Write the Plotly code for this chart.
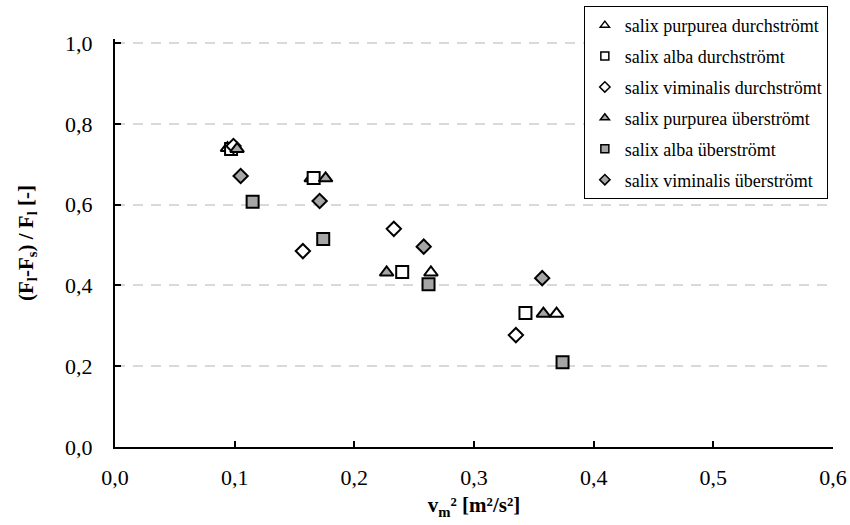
import plotly.graph_objects as go

# Measured series: v_m^2 [m²/s²] and relative force reduction (F_l - F_s) / F_l
series_names = [
    "salix purpurea durchströmt",
    "salix alba durchströmt",
    "salix viminalis durchströmt",
    "salix purpurea überströmt",
    "salix alba überströmt",
    "salix viminalis überströmt",
]

purpurea_durch_x = [0.094, 0.164, 0.264, 0.369]
purpurea_durch_y = [0.740, 0.665, 0.432, 0.330]

alba_durch_x = [0.097, 0.166, 0.240, 0.343]
alba_durch_y = [0.738, 0.666, 0.433, 0.332]

viminalis_durch_x = [0.099, 0.157, 0.233, 0.335]
viminalis_durch_y = [0.745, 0.485, 0.540, 0.277]

purpurea_ueber_x = [0.102, 0.176, 0.227, 0.358]
purpurea_ueber_y = [0.738, 0.665, 0.432, 0.330]

alba_ueber_x = [0.115, 0.174, 0.262, 0.374]
alba_ueber_y = [0.607, 0.515, 0.403, 0.210]

viminalis_ueber_x = [0.105, 0.171, 0.258, 0.357]
viminalis_ueber_y = [0.671, 0.609, 0.496, 0.418]

x_ticks = [0.0, 0.1, 0.2, 0.3, 0.4, 0.5, 0.6]
y_ticks = [0.0, 0.2, 0.4, 0.6, 0.8, 1.0]

WHITE = "#ffffff"
GREY = "#a6a6a6"
FONT = "Liberation Serif"

styles = [
    ("triangle-up", WHITE, 12),
    ("square", WHITE, 12),
    ("diamond", WHITE, 11),
    ("triangle-up", GREY, 12),
    ("square", GREY, 12),
    ("diamond", GREY, 11),
]
data = [
    (purpurea_durch_x, purpurea_durch_y),
    (alba_durch_x, alba_durch_y),
    (viminalis_durch_x, viminalis_durch_y),
    (purpurea_ueber_x, purpurea_ueber_y),
    (alba_ueber_x, alba_ueber_y),
    (viminalis_ueber_x, viminalis_ueber_y),
]

fig = go.Figure()

for name, (xs, ys), (sym, fill, size) in zip(series_names, data, styles):
    fig.add_trace(go.Scatter(
        x=xs, y=ys, mode="markers", name=name, showlegend=False,
        legendgroup=name,
        marker=dict(symbol=sym, size=size, color=fill,
                    line=dict(color="#000000", width=2)),
        hoverinfo="x+y",
    ))

# Smaller symbols for the legend entries
for name, (sym, fill, size) in zip(series_names, styles):
    fig.add_trace(go.Scatter(
        x=[None], y=[None], mode="markers", name=name, showlegend=True,
        legendgroup=name,
        marker=dict(symbol=sym, size=8, color=fill,
                    line=dict(color="#000000", width=1.5)),
    ))

fig.update_layout(
    width=850, height=525,
    margin=dict(l=115, r=17, t=39, b=78, autoexpand=False),
    paper_bgcolor="white", plot_bgcolor="white",
    separators=", ",
    font=dict(family=FONT, size=22, color="#000000"),
    legend=dict(
        x=0.653, y=1.081, xanchor="left", yanchor="top",
        bgcolor="white", bordercolor="#000000", borderwidth=1,
        font=dict(family=FONT, size=18, color="#000000"),
        traceorder="grouped", tracegroupgap=4.5,
        itemwidth=30,
    ),
)

fig.update_xaxes(
    range=[0, 0.6], tickvals=x_ticks, tickformat=".1f",
    showline=True, linecolor="#000000", linewidth=2,
    ticks="inside", ticklen=6, tickwidth=1.5, tickcolor="#000000",
    ticklabelstandoff=10, automargin=False,
    showgrid=False, zeroline=False,
    title=dict(text="<b>v<sub>m</sub>² [m²/s²]</b>", font=dict(family=FONT, size=21), standoff=8),
)
fig.update_yaxes(
    range=[0, 1.01], tickvals=y_ticks, tickformat=".1f",
    showline=True, linecolor="#000000", linewidth=2,
    ticks="inside", ticklen=6, tickwidth=1.5, tickcolor="#000000",
    ticklabelstandoff=16, automargin=False,
    showgrid=True, gridcolor="#d9d9d9", gridwidth=1.5, griddash="10px,8px",
    zeroline=False,
    title=dict(text="<b>(F<sub>l</sub>-F<sub>s</sub>) / F<sub>l</sub> [-]</b>",
               font=dict(family=FONT, size=21), standoff=26),
)

fig.write_html("out.html")
